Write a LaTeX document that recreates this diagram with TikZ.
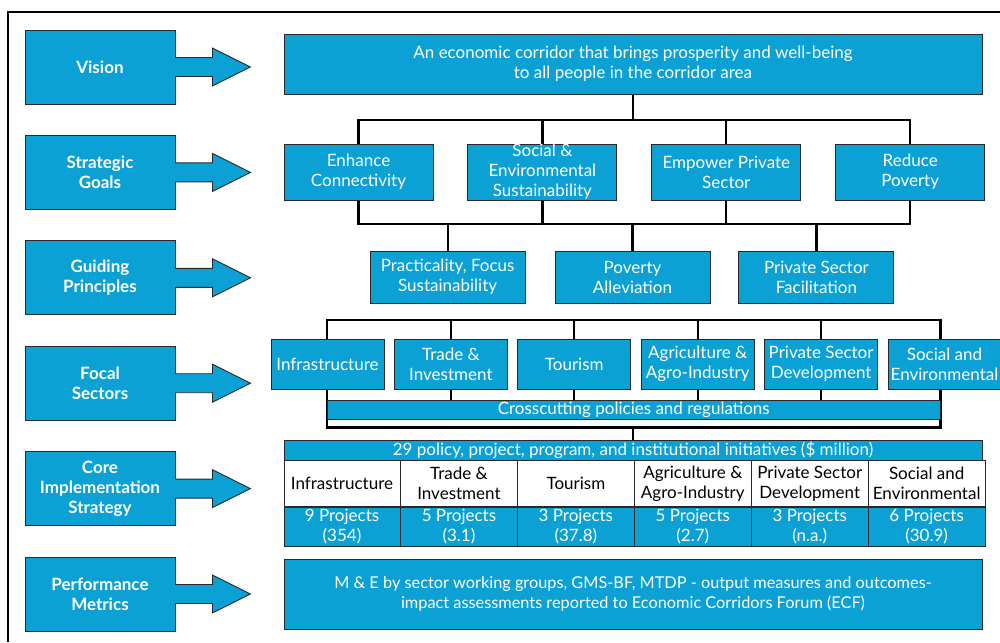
\documentclass[tikz,border=0pt]{standalone}
\usepackage{fontspec}
\setmainfont{Lato}
\usepackage{tikz}
\usetikzlibrary{positioning,backgrounds}

\definecolor{corridor}{RGB}{11,161,213}
\definecolor{rimgray}{RGB}{40,40,40}

% block arrow pointing from a stage box to its row
\newcommand{\sidearrow}[1]{%
  \fill[corridor] ([xshift=-1.5pt]#1.east) ++(0pt,9.5pt) -- ++(38.5pt,0pt) -- ++(0pt,9.5pt)
    -- ++(38pt,-19pt) -- ++(-38pt,-19pt) -- ++(0pt,9.5pt) -- ++(-38.5pt,0pt) -- cycle;
  \draw[rim] (#1.east) ++(0pt,9.5pt) -- ++(37pt,0pt) -- ++(0pt,9.5pt)
    -- ++(38pt,-19pt) -- ++(-38pt,-19pt) -- ++(0pt,9.5pt) -- ++(-37pt,0pt);
}

\begin{document}
\begin{tikzpicture}[%
        x=1pt, y=-1pt,
        node distance=105.4pt,
        every node/.style={inner sep=0pt, align=center, font=\fontsize{17}{20}\selectfont},
        stage/.style={rectangle, draw=rimgray, line width=0.9pt, fill=corridor, text=white, font=\fontsize{17}{20}\selectfont\bfseries, minimum width=150pt, minimum height=74pt},
        block/.style={rectangle, draw=rimgray, line width=0.9pt, fill=corridor, text=white},
        goal/.style={block, minimum width=149pt, minimum height=56pt},
        principle/.style={block, minimum width=155pt, minimum height=52pt},
        sector/.style={block, minimum width=113pt, minimum height=50pt},
        cell/.style={rectangle, draw=rimgray, line width=0.6pt, fill=white, text=black, minimum width=116.33pt, minimum height=46pt},
        count/.style={block, line width=0.6pt, minimum width=116.33pt, minimum height=39pt},
        link/.style={draw=black, line width=2.2pt},
        rim/.style={draw=rimgray, line width=0.9pt, line join=miter}]
        \useasboundingbox (0,0) rectangle (1000,642);

        % Outer frame
        \draw[black, line width=2.4pt] (1000,12) -- (8,12) -- (8,642);

        % Stages
        \node [stage] at (100,67) (vis) {Vision};
        \node [stage, below of=vis] (goals) {Strategic\\Goals};
        \node [stage, below of=goals] (guide) {Guiding\\Principles};
        \node [stage, below of=guide] (focal) {Focal\\Sectors};
        \node [stage, below of=focal] (core) {Core\\Implementation\\Strategy};
        \node [stage, below of=core] (perf) {Performance\\Metrics};
        \sidearrow{vis}
        \sidearrow{goals}
        \sidearrow{guide}
        \sidearrow{focal}
        \sidearrow{core}
        \sidearrow{perf}

        % Vision
        \node [block, minimum width=698pt, minimum height=60pt] at (633,64) (aim) {An economic corridor that brings prosperity and well-being\\to all people in the corridor area};

        % Strategic goals
        \node [goal] at (358.5,172) (g1) {Enhance\\Connectivity};
        \node [goal, right=34pt of g1] (g2) {Social \&\\Environmental\\Sustainability};
        \node [goal, right=34pt of g2] (g3) {Empower Private\\Sector};
        \node [goal, right=34pt of g3] (g4) {Reduce\\Poverty};

        % Guiding principles
        \node [principle] at (632.5,277) (p2) {Poverty\\Alleviation};
        \node [principle, left=29pt of p2] (p1) {Practicality, Focus\\Sustainability};
        \node [principle, right=28pt of p2] (p3) {Private Sector\\Facilitation};

        % Focal sectors
        \node [sector] at (327.5,364) (s1) {Infrastructure};
        \node [sector, right=9.5pt of s1] (s2) {Trade \&\\Investment};
        \node [sector, right=9.5pt of s2] (s3) {Tourism};
        \node [sector, right=9.5pt of s3] (s4) {Agriculture \&\\Agro-Industry};
        \node [sector, right=9.5pt of s4] (s5) {Private Sector\\Development};
        \node [sector, right=9.5pt of s5] (s6) {Social and\\Environmental};
        \node [block, minimum width=612.5pt, minimum height=19pt] at (633.75,409.5) (cross) {Crosscutting policies and regulations};

        % Core implementation strategy
        \node [block, minimum width=698pt, minimum height=20pt] at (633,450) (head) {29 policy, project, program, and institutional initiatives (\$ million)};
        \node [cell, anchor=north west] at (head.south west) (c1) {Infrastructure};
        \node [cell, right=0pt of c1] (c2) {Trade \&\\Investment};
        \node [cell, right=0pt of c2] (c3) {Tourism};
        \node [cell, right=0pt of c3] (c4) {Agriculture \&\\Agro-Industry};
        \node [cell, right=0pt of c4] (c5) {Private Sector\\Development};
        \node [cell, right=0pt of c5] (c6) {Social and\\Environmental};
        \node [count, below=0pt of c1] (n1) {9 Projects\\(354)};
        \node [count, below=0pt of c2] (n2) {5 Projects\\(3.1)};
        \node [count, below=0pt of c3] (n3) {3 Projects\\(37.8)};
        \node [count, below=0pt of c4] (n4) {5 Projects\\(2.7)};
        \node [count, below=0pt of c5] (n5) {3 Projects\\(n.a.)};
        \node [count, below=0pt of c6] (n6) {6 Projects\\(30.9)};

        % Performance metrics
        \node [block, minimum width=698pt, minimum height=70pt, font=\fontsize{16.3}{20}\selectfont] at (633,594) (metric) {M \& E by sector working groups, GMS-BF, MTDP - output measures and outcomes-\\impact assessments reported to Economic Corridors Forum (ECF)};

        % Edges
        \begin{scope}[on background layer]
            \coordinate (busG) at (0,120);
            \coordinate (busP) at (0,224);
            \coordinate (busS) at (0,320);
            \draw[link] (aim.south) -- (aim.south |- busG);
            \draw[link] (g1.north) |- (g4.north |- busG) -- (g4.north);
            \draw[link] (g2.north) -- (g2.north |- busG);
            \draw[link] (g3.north) -- (g3.north |- busG);
            \draw[link] (g1.south) |- (g4.south |- busP) -- (g4.south);
            \draw[link] (g2.south) -- (g2.south |- busP);
            \draw[link] (g3.south) -- (g3.south |- busP);
            \draw[link] (p1.north) -- (p1.north |- busP);
            \draw[link] (p2.north) -- (p2.north |- busP);
            \draw[link] (p3.north) -- (p3.north |- busP);
            \draw[link] (cross.west |- busS) rectangle ([yshift=-8pt]cross.south east);
            \draw[link] (s2.north) -- (s2.north |- busS);
            \draw[link] (s3.north) -- (s3.north |- busS);
            \draw[link] (s4.north) -- (s4.north |- busS);
            \draw[link] (s5.north) -- (s5.north |- busS);
            \draw[link] (s2.south) -- (cross.north -| s2.south);
            \draw[link] (s3.south) -- (cross.north -| s3.south);
            \draw[link] (s4.south) -- (cross.north -| s4.south);
            \draw[link] (s5.south) -- (cross.north -| s5.south);
            \draw[link] (head.north) -- ([yshift=-8pt]cross.south -| head.north);
        \end{scope}
    \end{tikzpicture}
\end{document}
